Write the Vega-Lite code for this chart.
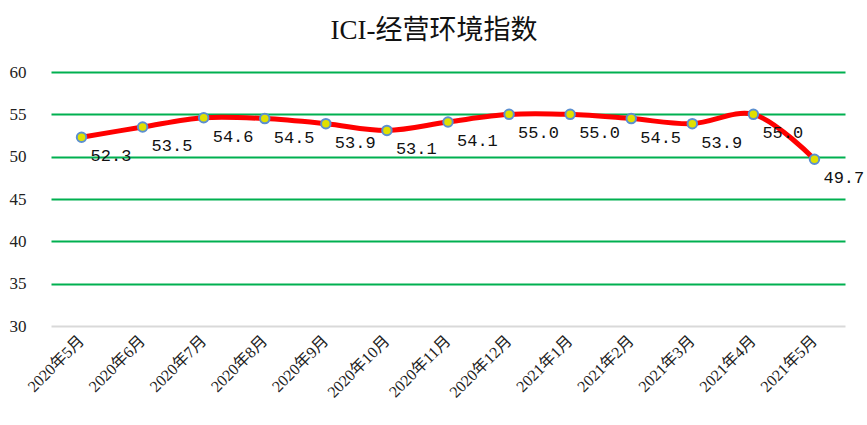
{
  "$schema": "https://vega.github.io/schema/vega-lite/v6.json",
  "width": 794,
  "height": 254,
  "autosize": "none",
  "padding": {"left": 51, "top": 72, "right": 22, "bottom": 99},
  "background": "white",
  "config": {"view": {"stroke": null}},
  "title": {
    "text": "ICI-经营环境指数",
    "font": "Liberation Serif, Noto Sans CJK SC",
    "fontSize": 27,
    "fontWeight": "normal",
    "color": "#111111",
    "anchor": "middle",
    "dx": -14,
    "offset": 18
  },
  "data": {
    "values": [
      {"month": "2020年5月", "v": 52.3},
      {"month": "2020年6月", "v": 53.5},
      {"month": "2020年7月", "v": 54.6},
      {"month": "2020年8月", "v": 54.5},
      {"month": "2020年9月", "v": 53.9},
      {"month": "2020年10月", "v": 53.1},
      {"month": "2020年11月", "v": 54.1},
      {"month": "2020年12月", "v": 55.0},
      {"month": "2021年1月", "v": 55.0},
      {"month": "2021年2月", "v": 54.5},
      {"month": "2021年3月", "v": 53.9},
      {"month": "2021年4月", "v": 55.0},
      {"month": "2021年5月", "v": 49.7}
    ]
  },
  "encoding": {
    "x": {
      "field": "month",
      "type": "nominal",
      "sort": null,
      "scale": {"type": "band", "paddingInner": 0, "paddingOuter": 0},
      "axis": {
        "title": null,
        "domain": false,
        "ticks": false,
        "labelAngle": -45,
        "labelAlign": "right",
        "labelBaseline": "middle",
        "labelPadding": 12,
        "labelFont": "Liberation Serif, Noto Sans CJK SC",
        "labelFontSize": 16,
        "labelColor": "#222222"
      }
    },
    "y": {
      "field": "v",
      "type": "quantitative",
      "scale": {"domain": [30, 60], "nice": false, "zero": false},
      "axis": {
        "title": null,
        "values": [30, 35, 40, 45, 50, 55, 60],
        "domain": false,
        "ticks": false,
        "labelAlign": "left",
        "labelPadding": 42,
        "labelFont": "Liberation Serif",
        "labelFontSize": 17,
        "labelColor": "#222222",
        "gridWidth": 2,
        "gridColor": {"condition": {"test": "datum.value == 30", "value": "#d9d9d9"}, "value": "#00b050"}
      }
    }
  },
  "layer": [
    {
      "mark": {"type": "line", "color": "#ff0000", "strokeWidth": 5, "interpolate": "catmull-rom"}
    },
    {
      "mark": {"type": "point", "filled": true, "fill": "#e0e000", "stroke": "#5b8fd0", "strokeWidth": 2, "size": 90, "opacity": 1}
    },
    {
      "mark": {"type": "text", "align": "left", "baseline": "middle", "dx": 9, "dy": 19, "font": "Liberation Mono", "fontSize": 17, "color": "#111111"},
      "encoding": {"text": {"field": "v", "type": "quantitative", "format": ".1f"}}
    }
  ]
}
